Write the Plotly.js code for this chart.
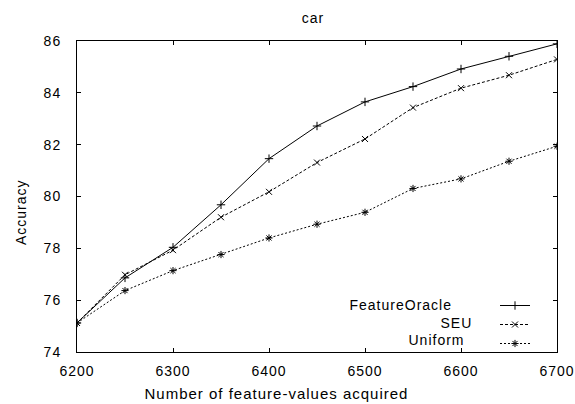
<!DOCTYPE html>
<html>
<head>
<meta charset="utf-8">
<script src="https://cdn.plot.ly/plotly-3.0.1.min.js"></script>
<style>
html,body{margin:0;padding:0;background:#fff;}
#chart{width:575px;height:404px;}
#chart svg text{letter-spacing:1px;}
</style>
</head>
<body>
<div id="chart"></div>
<script>
const featureValues = [6200, 6250, 6300, 6350, 6400, 6450, 6500, 6550, 6600, 6650, 6700];
const featureOracle = [75.12, 76.86, 78.04, 79.68, 81.46, 82.72, 83.65, 84.24, 84.92, 85.41, 85.89];
const seu = [75.12, 76.98, 77.93, 79.2, 80.18, 81.31, 82.22, 83.43, 84.18, 84.68, 85.29];
const uniform = [75.12, 76.37, 77.14, 77.76, 78.4, 78.93, 79.39, 80.31, 80.68, 81.36, 81.94];
const seriesNames = ["FeatureOracle", "SEU", "Uniform"];
const xTicks = [6200, 6300, 6400, 6500, 6600, 6700];
const yTicks = [74, 76, 78, 80, 82, 84, 86];
const chartTitle = "car";
const xTitle = "Number of feature-values acquired";
const yTitle = "Accuracy";

const FONT = "Liberation Sans, Arial, Helvetica, sans-serif";
const W = 575, H = 404;
const M = {l: 77, r: 18, t: 41, b: 52};
const PW = W - M.l - M.r, PH = H - M.t - M.b;
const px2x = p => (p - M.l) / PW;
const py2y = p => (H - M.b - p) / PH;

const traces = [
  {x: featureValues, y: featureOracle, name: " ", mode: "lines+markers",
   line: {color: "#000", width: 1},
   marker: {symbol: "cross-thin", size: 6, color: "#000", line: {color: "#000", width: 1}}},
  {x: featureValues, y: seu, name: " ", mode: "lines+markers",
   line: {color: "#000", width: 1, dash: "3px,2px"},
   marker: {symbol: "x-thin", size: 6, color: "#000", line: {color: "#000", width: 1}}},
  {x: featureValues, y: uniform, name: " ", mode: "lines+markers",
   line: {color: "#000", width: 1, dash: "2px,2px"},
   marker: {symbol: "asterisk-open", size: 6, color: "#000", line: {color: "#000", width: 1}}}
];

const axisCommon = {
  showline: true, linecolor: "#000", linewidth: 1, mirror: "ticks",
  ticks: "inside", ticklen: 4, tickcolor: "#000", tickwidth: 1,
  showgrid: false, zeroline: false,
  tickfont: {family: FONT, size: 14, color: "#000"}
};

// legend name labels (right edges as in the original)
const legendRight = [448, 473, 463];
const legendRowY = [305, 322.5, 340];

const annotations = [
  {text: xTitle, xref: "paper", yref: "paper", x: px2x(276), y: py2y(393),
   xanchor: "center", yanchor: "middle", showarrow: false,
   font: {family: FONT, size: 15, color: "#000"}},
  {text: yTitle, xref: "paper", yref: "paper", x: px2x(21), y: py2y(212),
   xanchor: "center", yanchor: "middle", showarrow: false, textangle: -90,
   font: {family: FONT, size: 14, color: "#000"}}
].concat(seriesNames.map((n, i) => ({
  text: n, xref: "paper", yref: "paper", x: px2x(legendRight[i]), y: py2y(legendRowY[i]),
  xanchor: "right", yanchor: "middle", showarrow: false,
  font: {family: FONT, size: 14, color: "#000"}
})));

const layout = {
  width: W, height: H,
  margin: M,
  paper_bgcolor: "#fff", plot_bgcolor: "#fff",
  font: {family: FONT, color: "#000", size: 14},
  title: {text: chartTitle, font: {family: FONT, size: 14, color: "#000"},
          x: 313/W, xref: "container", xanchor: "center",
          y: 1 - 18/H, yref: "container", yanchor: "middle"},
  xaxis: Object.assign({}, axisCommon, {
    range: [6200, 6700], tickvals: xTicks, ticktext: xTicks.map(String),
    ticklabelstandoff: 6
  }),
  yaxis: Object.assign({}, axisCommon, {
    range: [74, 86], tickvals: yTicks, ticktext: yTicks.map(String),
    ticklabelstandoff: 12
  }),
  annotations: annotations,
  showlegend: true,
  legend: {x: px2x(495), y: py2y(291), xanchor: "left", yanchor: "top",
           bgcolor: "rgba(255,255,255,0)", borderwidth: 0, itemwidth: 30,
           font: {family: FONT, size: 12, color: "#000"}, tracegroupgap: 0}
};

Plotly.newPlot("chart", traces, layout, {displayModeBar: false, staticPlot: true});
</script>
</body>
</html>
